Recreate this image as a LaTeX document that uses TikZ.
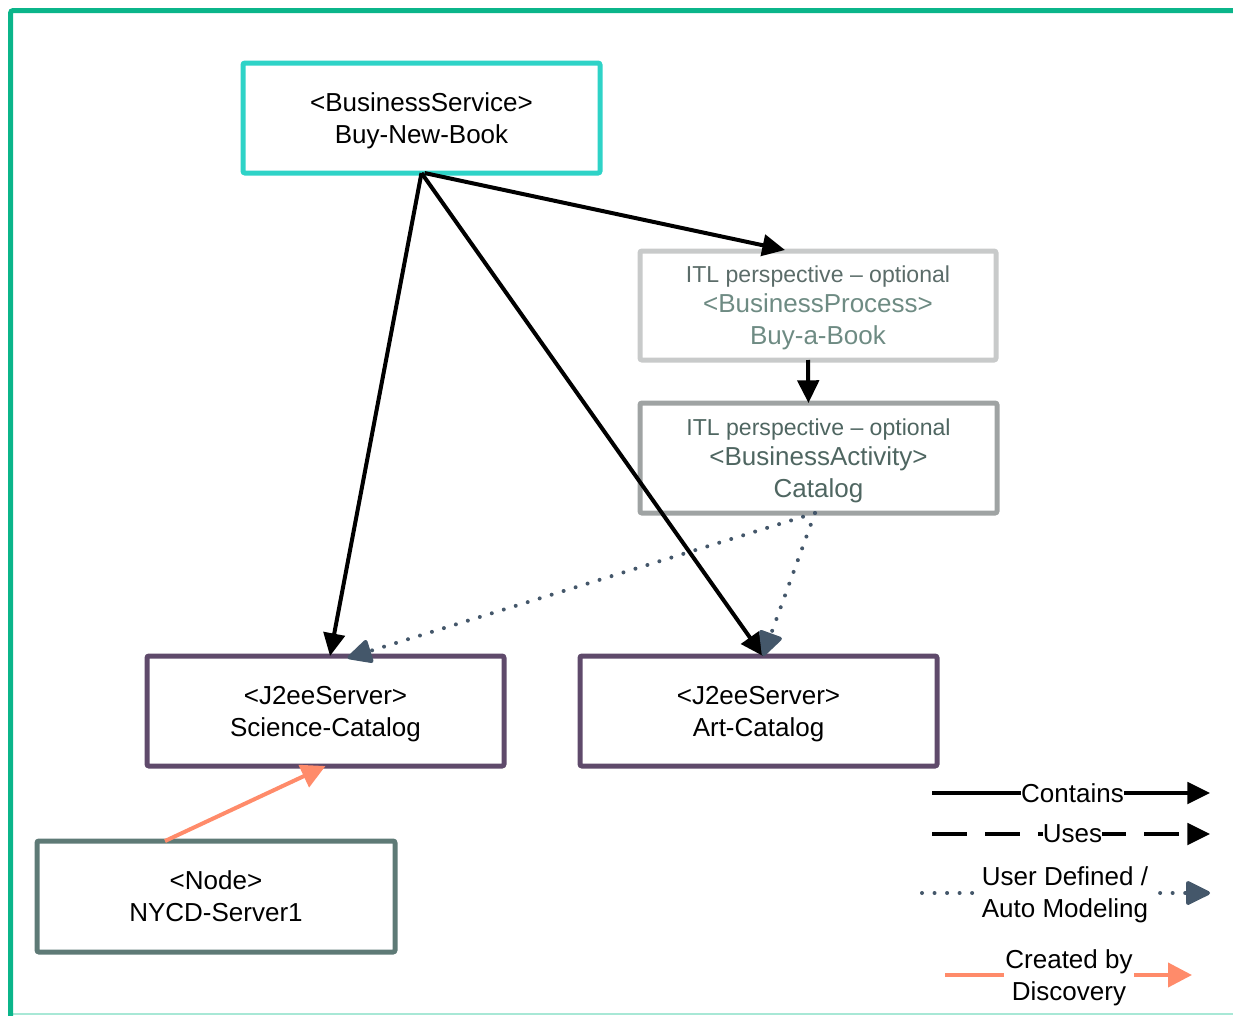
\documentclass[tikz,border=0pt]{standalone}
\usepackage{fontspec}
\setmainfont{Liberation Sans}
\usetikzlibrary{arrows.meta,calc}
\definecolor{bordercol}{HTML}{0BB58A}
\definecolor{borderlight}{HTML}{A8E8D6}
\definecolor{bscol}{HTML}{2ED3C7}
\definecolor{bpcol}{HTML}{C8CACA}
\definecolor{bacol}{HTML}{9FA3A3}
\definecolor{j2col}{HTML}{5F4A6B}
\definecolor{ndcol}{HTML}{5E7A76}
\definecolor{dotcol}{HTML}{44576A}
\definecolor{salmon}{HTML}{FF8B6A}
\definecolor{bpA}{HTML}{5B6C69}
\definecolor{bpB}{HTML}{6E8B83}
\definecolor{baT}{HTML}{4F6661}
\newcommand\mainfnt{\fontsize{19.5}{24}\selectfont}
\newcommand\smallfnt{\fontsize{17.3}{22}\selectfont}
\begin{document}
\begin{tikzpicture}[x=0.75pt,y=-0.75pt,
  box/.style={draw, line width=3.75pt, rounded corners=1.5pt, minimum width=267.75pt,
    minimum height=82.5pt, align=center, font=\mainfnt, inner sep=0pt, outer sep=0pt,
    text depth=0pt},
  contains/.style={draw=black, line width=3pt, -{Triangle[length=17pt,width=16pt]}},
  uses/.style={contains, dash pattern=on 26.25pt off 13.5pt},
  userdef/.style={draw=dotcol, line width=3pt, line cap=round, dash pattern=on 0pt off 9.4pt,
    -{Triangle[length=20pt,width=19pt,round=false]}},
  discovery/.style={draw=salmon, line width=3pt, -{Triangle[length=18pt,width=18pt]}},
  legtext/.style={fill=white, inner sep=0pt, align=center, font=\mainfnt}]
\useasboundingbox (0,0) rectangle (1233,1015);
% frame
\draw[borderlight, line width=1.5pt] (10.5,1014) -- (1233,1014);
\draw[bordercol, line width=3.75pt, rounded corners=2pt] (10.5,1016) -- (10.5,10.5) -- (1236,10.5);

% boxes
\node[box, draw=bscol] (bs) at (421.5,118) {<BusinessService>\\Buy-New-Book};
\node[box, draw=bpcol, minimum width=267pt, minimum height=81.75pt] (bp) at (818,305.5)
  {{\color{bpA}\smallfnt ITL perspective – optional}\\[-1.5pt]{\color{bpB}<BusinessProcess>}\\{\color{bpB}Buy-a-Book}};
\node[box, draw=bacol] (ba) at (818.5,458)
  {{\color{baT}\smallfnt ITL perspective – optional}\\[-1.5pt]{\color{baT}<BusinessActivity>}\\{\color{baT}Catalog}};
\node[box, draw=j2col] (sc) at (325.5,711) {<J2eeServer>\\Science-Catalog};
\node[box, draw=j2col] (ac) at (758.5,711) {<J2eeServer>\\Art-Catalog};
\node[box, draw=ndcol, minimum width=268.5pt, minimum height=83.25pt] (nd) at (216,896.5) {<Node>\\NYCD-Server1};

% connectors
\draw[contains] (bs.south) -- ($(sc.north)+(4.5,0)$);
\draw[contains] (bs.south) -- ($(ac.north)+(4.5,0)$);
\draw[contains] ($(bs.south)+(3,0)$) -- ($(bp.north)+(-33,-1)$);
\draw[contains] ($(bp.south)+(-10,0)$) -- ($(ba.north)+(-10,0)$);
\draw[userdef] ($(ba.south)+(-3.5,0)$) -- ($(sc.north)+(22,2)$);
\draw[userdef] ($(ba.south)+(-3.5,0)$) -- ($(ac.north)+(4.5,0)$);
\draw[discovery] ($(nd.north)+(-51,0)$) -- (sc.south);

% legend
\coordinate (c1) at (932,793); \coordinate (c2) at (1210,793);
\draw[contains] (c1) -- (c2);
\node[legtext] (cT) at (1072.5,793) {Contains};

\coordinate (u1) at (932,834); \coordinate (u2) at (1210,834);
\draw[uses] (u1) -- (u2);
\node[legtext] (uT) at (1072.5,834) {Uses};

\coordinate (d1) at (922,893); \coordinate (d2) at (1210,893);
\draw[userdef] (d1) -- (d2);
\node[legtext, inner xsep=5pt, text depth=0pt] (dT) at (1065,892.5) {User Defined /\\Auto Modeling};

\coordinate (g1) at (945,975); \coordinate (g2) at (1192,975);
\draw[discovery] (g1) -- (g2);
\node[legtext, inner xsep=1pt, text depth=0pt] (gT) at (1069,975) {Created by\\Discovery};
\end{tikzpicture}
\end{document}
